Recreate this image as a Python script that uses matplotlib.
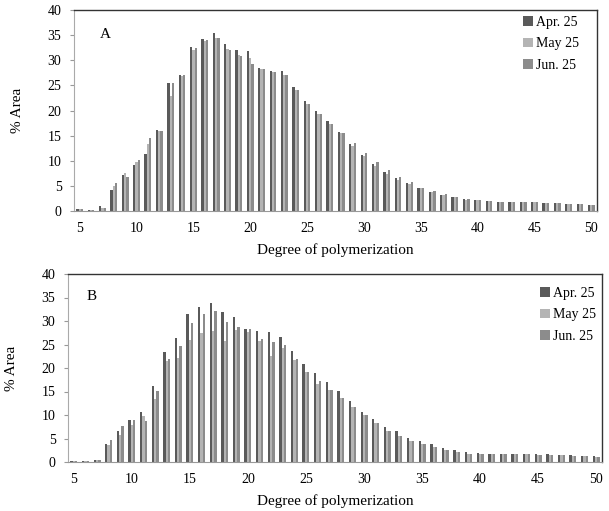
import matplotlib
matplotlib.use("Agg")
import matplotlib.pyplot as plt
import numpy as np

dp = list(range(5, 51))
series_names = ["Apr. 25", "May 25", "Jun. 25"]
colors = ["#5a5a5a", "#b4b4b4", "#8c8c8c"]

a_apr = [0.4, 0.2, 0.9, 4.1, 7.2, 9.2, 11.4, 16.1, 25.5, 27.0, 32.7, 34.2, 35.4, 33.2, 32.0, 31.8,
         28.5, 27.8, 27.8, 24.7, 21.9, 19.9, 17.9, 15.8, 13.4, 11.1, 9.3, 7.7, 6.5, 5.5, 4.6, 3.8,
         3.2, 2.7, 2.3, 2.1, 1.9, 1.8, 1.8, 1.7, 1.7, 1.6, 1.5, 1.4, 1.3, 1.1]
a_may = [0.3, 0.2, 0.6, 5.0, 7.6, 9.8, 13.3, 16.0, 22.9, 26.8, 32.1, 33.8, 34.5, 32.2, 31.1, 30.5,
         28.3, 27.6, 27.1, 24.1, 21.3, 19.3, 17.3, 15.5, 12.9, 10.9, 8.9, 7.4, 6.2, 5.3, 4.5, 3.7,
         3.2, 2.7, 2.2, 2.1, 1.9, 1.8, 1.8, 1.7, 1.7, 1.6, 1.5, 1.4, 1.3, 1.1]
a_jun = [0.3, 0.2, 0.6, 5.5, 6.8, 10.2, 14.5, 16.0, 25.5, 27.0, 32.4, 34.0, 34.5, 32.1, 30.9, 29.3,
         28.2, 27.6, 27.1, 24.0, 21.3, 19.3, 17.3, 15.5, 13.5, 11.5, 9.7, 8.1, 6.8, 5.7, 4.5, 4.0,
         3.3, 2.8, 2.4, 2.1, 1.9, 1.8, 1.8, 1.7, 1.7, 1.6, 1.5, 1.4, 1.3, 1.1]

b_apr = [0.2, 0.3, 0.5, 3.9, 6.6, 9.0, 10.6, 16.2, 23.5, 26.4, 31.5, 32.9, 33.9, 31.9, 30.8, 28.2,
         27.9, 27.6, 26.7, 23.7, 20.8, 19.0, 17.1, 15.2, 12.9, 10.7, 9.1, 7.5, 6.5, 5.2, 4.5, 3.8,
         3.0, 2.6, 2.1, 1.9, 1.8, 1.7, 1.7, 1.7, 1.6, 1.6, 1.5, 1.4, 1.3, 1.2]
b_may = [0.2, 0.3, 0.5, 3.6, 5.8, 7.8, 9.7, 13.5, 21.5, 22.1, 26.0, 27.4, 27.8, 25.8, 28.0, 27.6,
         25.7, 22.6, 24.2, 21.6, 19.1, 16.7, 15.4, 13.7, 11.8, 9.9, 8.2, 6.7, 5.6, 4.5, 3.8, 3.2,
         2.6, 2.1, 1.8, 1.6, 1.7, 1.6, 1.6, 1.6, 1.5, 1.4, 1.4, 1.3, 1.2, 1.1]
b_jun = [0.2, 0.3, 0.5, 4.7, 7.6, 8.9, 8.8, 15.1, 22.0, 24.7, 29.6, 31.5, 32.2, 29.8, 28.7, 28.2,
         26.1, 25.5, 24.9, 22.0, 19.2, 17.3, 15.4, 13.7, 11.8, 9.9, 8.2, 6.7, 5.6, 4.5, 3.8, 3.2,
         2.6, 2.1, 1.8, 1.6, 1.7, 1.6, 1.6, 1.6, 1.5, 1.4, 1.4, 1.3, 1.2, 1.1]

plt.rcParams['font.family'] = ['Liberation Serif', 'DejaVu Serif']

fig = plt.figure(figsize=(6.09, 5.11), dpi=100)
W, H = 609, 511

def make_panel(rect, data, label, label_pos, leg_anchor):
    ax = fig.add_axes(rect)
    x = np.array(dp, dtype=float)
    bw = 0.2
    for i, (vals, c, name) in enumerate(zip(data, colors, series_names)):
        ax.bar(x + (i - 1) * bw, vals, width=bw, color=c, label=name, linewidth=0)
    ax.set_xlim(4.5, 50.5)
    ax.set_ylim(0, 40)
    ax.set_yticks(range(0, 41, 5))
    ax.set_xticks(range(5, 51, 5))
    ax.tick_params(axis='x', length=0, labelsize=10, pad=8)
    ax.tick_params(axis='y', length=3, labelsize=10, color='#999999', pad=6)
    for s in ['top', 'right']:
        ax.spines[s].set_color('#333333')
        ax.spines[s].set_linewidth(1.0)
    ax.spines['left'].set_color('#aaaaaa')
    ax.spines['bottom'].set_color('#999999')
    ax.set_xlabel("Degree of polymerization", fontsize=11, labelpad=6)
    ax.set_ylabel("% Area", fontsize=11, labelpad=17)
    ax.text(label_pos[0], label_pos[1], label, fontsize=11, transform=ax.transAxes)
    ax.legend(loc='upper right', bbox_to_anchor=leg_anchor, frameon=False, fontsize=10,
              handlelength=0.7, handleheight=0.7, handletextpad=0.2, labelspacing=0.6,
              borderaxespad=0.0, borderpad=0.0)
    return ax

axA = make_panel([74 / W, 1 - 211 / H, (597 - 74) / W, (211 - 10) / H],
                 [a_apr, a_may, a_jun], "A", (0.05, 0.86), (0.965, 0.97))
axB = make_panel([68 / W, 1 - 462 / H, (602 - 68) / W, (462 - 274) / H],
                 [b_apr, b_may, b_jun], "B", (0.035, 0.86), (0.988, 0.93))

fig.savefig("out.png", dpi=100)
